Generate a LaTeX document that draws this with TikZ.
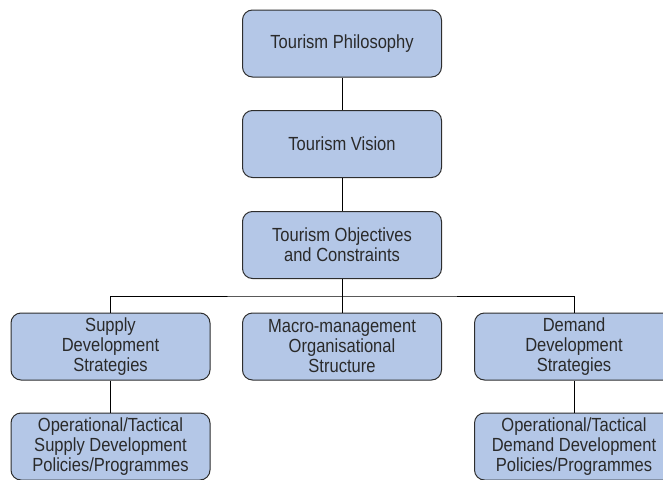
\documentclass[tikz,border=0pt]{standalone}
\usepackage{fontspec}
\setmainfont{Liberation Sans}[FakeStretch=0.87]
\usepackage{tikz}
\usetikzlibrary{positioning}
\definecolor{boxblue}{HTML}{B4C7E7}
\definecolor{boxline}{HTML}{2E2E2E}
\definecolor{boxtext}{HTML}{2A2A2A}
\tikzset{
  plan/.style={draw=boxline, line width=1pt, fill=boxblue, rounded corners=10pt,
    minimum width=199pt, minimum height=67pt, align=center, text=boxtext,
    font=\fontsize{19pt}{20pt}\selectfont, inner sep=2pt},
  link/.style={draw=black, line width=0.9pt}
}
\begin{document}
\begin{tikzpicture}[x=1pt, y=-1pt]
\useasboundingbox (0,0) rectangle (663,479);
\clip (0,0) rectangle (663,479);
\node[plan] (phil) at (342,43.5) {Tourism Philosophy};
\node[plan] (vision) at (342,144) {Tourism Vision};
\node[plan] (obj) at (342,245) {Tourism Objectives\\and Constraints};
\node[plan] (supply) at (110.5,346.5) {Supply\\Development\\Strategies};
\node[plan] (macro) at (342,346.5) {Macro-management\\Organisational\\Structure};
\node[plan] (demand) at (574,346.5) {Demand\\Development\\Strategies};
\node[plan] (opsupply) at (110.5,446.5) {Operational/Tactical\\Supply Development\\Policies/Programmes};
\node[plan] (opdemand) at (574,446.5) {Operational/Tactical\\Demand Development\\Policies/Programmes};
\coordinate (bus) at (342,296);
% hierarchy lines
\draw[link] (phil) -- (vision);
\draw[link] (vision) -- (obj);
\draw[link] (obj) -- (macro);
\draw[link] (supply.north) |- (bus) -| (demand.north);
\draw[link] (supply) -- (opsupply);
\draw[link] (demand) -- (opdemand);
\end{tikzpicture}
\end{document}
